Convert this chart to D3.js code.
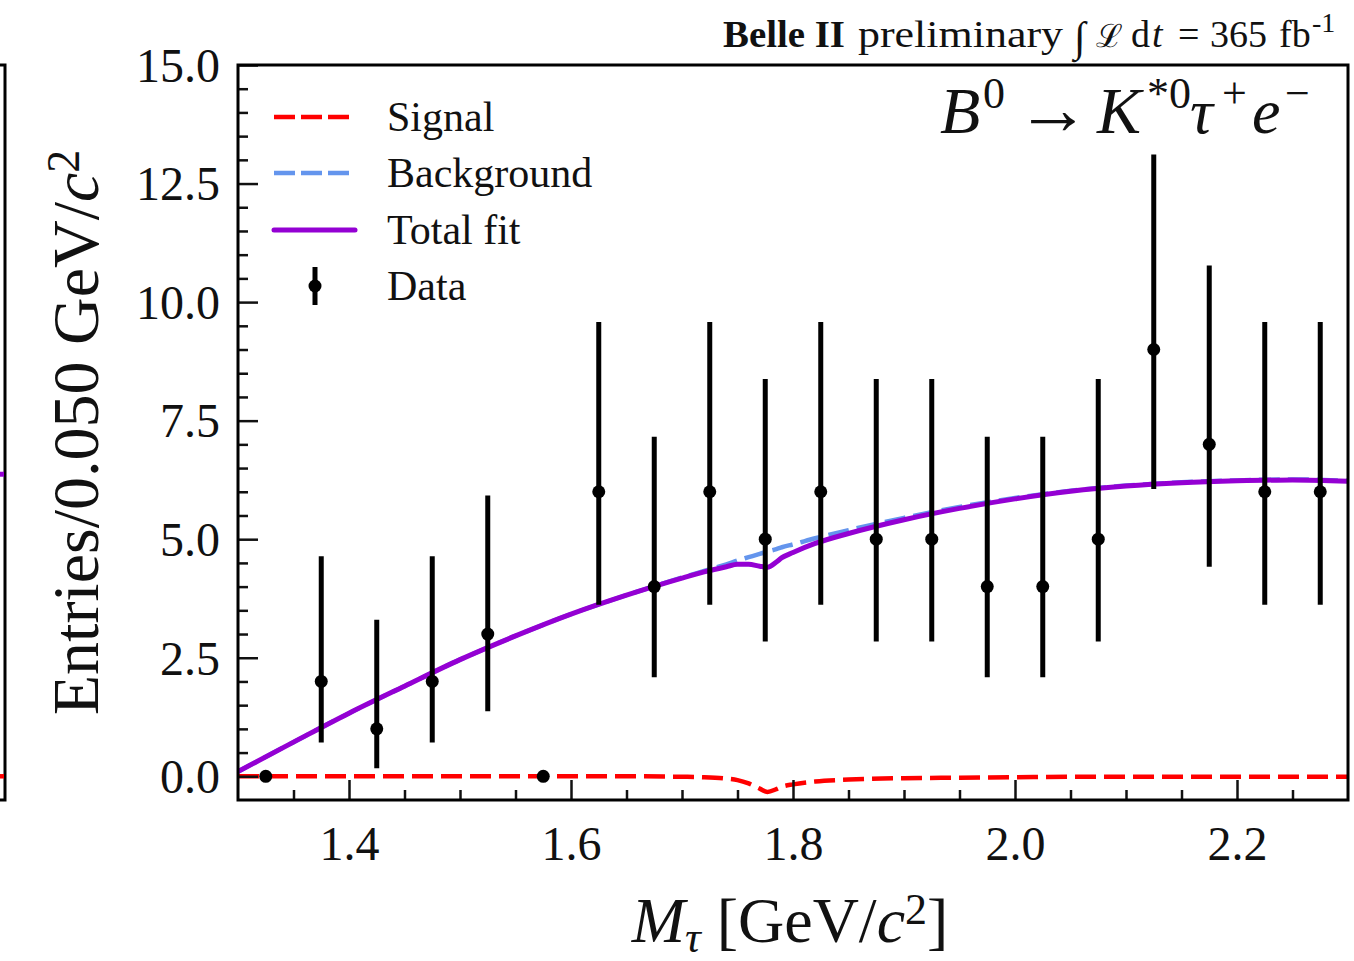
<!DOCTYPE html>
<html>
<head>
<meta charset="utf-8">
<script src="https://cdn.jsdelivr.net/npm/d3@7"></script>
<style>
  body { margin: 0; background: #fff; }
  text { font-family: "Liberation Serif", "Times New Roman", serif; fill: #111; }
</style>
</head>
<body>
<svg id="chart" width="1354" height="961"></svg>
<script>
if(!d3){
    throw new Error("d3 failed to load");
}

// data points (bin centres, counts, 68% Poisson interval)
const binCentres = [1.325, 1.375, 1.425, 1.475, 1.525, 1.575, 1.625, 1.675, 1.725, 1.775,
                    1.825, 1.875, 1.925, 1.975, 2.025, 2.075, 2.125, 2.175, 2.225, 2.275];
const counts   = [0, 2, 1, 2, 3, 0, 6, 4, 6, 5, 6, 5, 5, 4, 4, 5, 9, 7, 6, 6];
const errLow   = [0, 0.71, 0.17, 0.71, 1.37, 0, 3.62, 2.09, 3.62, 2.84,
                  3.62, 2.84, 2.84, 2.09, 2.09, 2.84, 6.06, 4.42, 3.62, 3.62];
const errHigh  = [0, 4.64, 3.30, 4.64, 5.92, 0, 9.58, 7.16, 9.58, 8.38,
                  9.58, 8.38, 8.38, 7.16, 7.16, 8.38, 13.11, 10.77, 9.58, 9.58];

// fit components
const fitGrid    = [1.30, 1.35, 1.40, 1.45, 1.50, 1.55, 1.60, 1.65, 1.70, 1.72, 1.74, 1.75, 1.76, 1.77,
                    1.777, 1.785, 1.79, 1.80, 1.82, 1.85, 1.90, 1.95, 2.00, 2.05, 2.10, 2.15, 2.20, 2.25, 2.30];
const background = [0.10, 0.72, 1.33, 1.90, 2.46, 2.96, 3.42, 3.82, 4.19, 4.33, 4.47, 4.55, 4.62, 4.69,
                    4.74, 4.79, 4.83, 4.89, 5.02, 5.19, 5.45, 5.68, 5.87, 6.02, 6.13, 6.20, 6.24, 6.26, 6.23];
const signal     = [0, 0, 0, 0, 0, 0, 0, 0, -0.01, -0.02, -0.05, -0.08, -0.15, -0.26,
                    -0.33, -0.27, -0.22, -0.17, -0.11, -0.07, -0.04, -0.03, -0.02, -0.01, -0.01, -0.01, -0.01, -0.01, -0.01];

// edge of the neighbouring panel that shows at the left border
const neighbourTotal  = 6.37;
const neighbourSignal = 0;

const xTicks = [1.4, 1.6, 1.8, 2.0, 2.2];
const yTicks = [0, 2.5, 5, 7.5, 10, 12.5, 15];

const legendItems = ["Signal", "Background", "Total fit", "Data"];

const colours = {
    signal: "#ff0000",
    background: "#6495ed",
    total: "#9400d3",
    data: "#000000"
};

const svg = d3.select("#chart");
const W = 1354, H = 961;
const m = {left: 238, right: 1348, top: 65, bottom: 800};

svg.append("rect").attr("width", W).attr("height", H).attr("fill", "#fff");

const x = d3.scaleLinear().domain([1.3, 2.3]).range([m.left, m.right]);
const y = d3.scaleLinear().domain([-0.5, 15]).range([m.bottom, m.top]);

// neighbour panel stub
const nb = svg.append("g");
nb.append("path")
    .attr("d", `M0,${m.top} H5 V${m.bottom} H0`)
    .attr("fill", "none").attr("stroke", "#000").attr("stroke-width", 3);
nb.append("line").attr("x1", 0).attr("x2", 4)
    .attr("y1", y(neighbourTotal)).attr("y2", y(neighbourTotal))
    .attr("stroke", colours.total).attr("stroke-width", 5);
nb.append("line").attr("x1", 0).attr("x2", 4)
    .attr("y1", y(neighbourSignal)).attr("y2", y(neighbourSignal))
    .attr("stroke", colours.signal).attr("stroke-width", 4.5);

const plot = svg.append("g");
plot.append("clipPath").attr("id", "clip")
    .append("rect").attr("x", m.left).attr("y", m.top)
    .attr("width", m.right - m.left).attr("height", m.bottom - m.top);

const inner = plot.append("g").attr("clip-path", "url(#clip)");

const total = background.map((b, i) => b + signal[i]);

const line = (vals) => d3.line()
    .x((d, i) => x(fitGrid[i]))
    .y(d => y(d))
    .curve(d3.curveMonotoneX)(vals);

inner.append("path").attr("d", line(signal))
    .attr("fill", "none").attr("stroke", colours.signal)
    .attr("stroke-width", 4.5).attr("stroke-dasharray", "21,8");
inner.append("path").attr("d", line(background))
    .attr("fill", "none").attr("stroke", colours.background)
    .attr("stroke-width", 4.5).attr("stroke-dasharray", "21,8");
inner.append("path").attr("d", line(total))
    .attr("fill", "none").attr("stroke", colours.total)
    .attr("stroke-width", 5);

// data
const pts = binCentres.map((c, i) => ({c, n: counts[i], lo: errLow[i], hi: errHigh[i]}));
inner.selectAll("line.err").data(pts.filter(d => d.hi > d.lo)).join("line")
    .attr("class", "err")
    .attr("x1", d => x(d.c)).attr("x2", d => x(d.c))
    .attr("y1", d => y(d.lo)).attr("y2", d => y(d.hi))
    .attr("stroke", colours.data).attr("stroke-width", 5);
inner.selectAll("circle.pt").data(pts).join("circle")
    .attr("class", "pt")
    .attr("cx", d => x(d.c)).attr("cy", d => y(d.n)).attr("r", 6.5)
    .attr("fill", colours.data);

// axes, ticks inward
const tickStyle = (g) => {
    g.select(".domain").remove();
    g.selectAll(".tick line").attr("stroke", "#111").attr("stroke-width", 2.5);
};

const xAxis = d3.axisBottom(x).tickValues(xTicks).tickSize(-20).tickPadding(0)
    .tickFormat(d3.format(".1f"));
plot.append("g").attr("transform", `translate(0,${m.bottom})`).call(xAxis).call(tickStyle)
    .selectAll("text").attr("y", 60).attr("dy", null)
    .style("font-size", "48px").attr("fill", "#111");
plot.append("g").attr("transform", `translate(0,${m.bottom})`)
    .call(d3.axisBottom(x).tickValues(d3.range(1.35, 2.3, 0.05).filter(v => !xTicks.some(t => Math.abs(t - v) < 1e-6)))
        .tickSize(-10).tickFormat(""))
    .call(tickStyle);

const yAxis = d3.axisLeft(y).tickValues(yTicks).tickSize(-20).tickPadding(18)
    .tickFormat(d3.format(".1f"));
plot.append("g").attr("transform", `translate(${m.left},0)`).call(yAxis).call(tickStyle)
    .selectAll("text").attr("dy", "0.34em")
    .style("font-size", "48px").attr("fill", "#111");
plot.append("g").attr("transform", `translate(${m.left},0)`)
    .call(d3.axisLeft(y).tickValues(d3.range(0.5, 15, 0.5).filter(v => v % 2.5 !== 0))
        .tickSize(-10).tickFormat(""))
    .call(tickStyle);

// frame
plot.append("rect")
    .attr("x", m.left).attr("y", m.top)
    .attr("width", m.right - m.left).attr("height", m.bottom - m.top)
    .attr("fill", "none").attr("stroke", "#000").attr("stroke-width", 3);

// legend
const lg = svg.append("g");
const lgY = [117, 173, 230, 286];
const lgSym = [
    {stroke: colours.signal, dash: "21,6", w: 4.5},
    {stroke: colours.background, dash: "21,6", w: 4.5},
    {stroke: colours.total, dash: null, w: 5}
];
lgSym.forEach((s, i) => {
    lg.append("line").attr("x1", 274).attr("x2", 355)
        .attr("y1", lgY[i]).attr("y2", lgY[i])
        .attr("stroke", s.stroke).attr("stroke-width", s.w)
        .attr("stroke-dasharray", s.dash).attr("stroke-linecap", s.dash ? "butt" : "round");
});
lg.append("line").attr("x1", 315).attr("x2", 315).attr("y1", 267).attr("y2", 305)
    .attr("stroke", "#000").attr("stroke-width", 5);
lg.append("circle").attr("cx", 315).attr("cy", 286).attr("r", 6.5).attr("fill", "#000");
legendItems.forEach((t, i) => {
    lg.append("text").attr("x", 387).attr("y", lgY[i] + 14)
        .style("font-size", "42px").text(t);
});

// axis titles
const yl = svg.append("text")
    .attr("transform", `translate(98,${(m.top + m.bottom) / 2}) rotate(-90)`)
    .attr("text-anchor", "middle").style("font-size", "66px");
yl.append("tspan").text("Entries/0.050 GeV/");
yl.append("tspan").style("font-style", "italic").text("c");
yl.append("tspan").attr("dy", "-0.42em").style("font-size", "46px").text("2");

const xl = svg.append("text")
    .attr("x", (m.left + m.right) / 2 - 3).attr("y", 942)
    .attr("text-anchor", "middle").style("font-size", "64px");
xl.append("tspan").style("font-style", "italic").text("M");
xl.append("tspan").attr("dy", "0.22em").style("font-style", "italic").style("font-size", "44px").text("τ");
xl.append("tspan").attr("dy", "-0.15em").text("  [GeV/");
xl.append("tspan").style("font-style", "italic").text("c");
xl.append("tspan").attr("dy", "-0.42em").style("font-size", "44px").text("2");
xl.append("tspan").attr("dy", "0.29em").text("]");

// header, pieces placed one by one
const hdY = 47;
const hd = svg.append("g").style("font-size", "38px");
const hdParts = [
    {t: "Belle II", x: 723, w: 122, bold: true},
    {t: "preliminary", x: 858, w: 205},
    {t: "∫", x: 1074, dy: 4, size: 42},
    {t: "ℒ", x: 1096, size: 32, font: "DejaVu Serif"},
    {t: "d", x: 1131},
    {t: "t", x: 1152, it: true},
    {t: "=", x: 1178},
    {t: "365", x: 1210, w: 57},
    {t: "fb", x: 1279},
    {t: "-1", x: 1312, dy: -15, size: 28}
];
hdParts.forEach(p => {
    const t = hd.append("text").attr("x", p.x).attr("y", hdY + (p.dy || 0))
        .style("font-weight", p.bold ? "bold" : null)
        .style("font-style", p.it ? "italic" : null)
        .style("font-size", p.size ? p.size + "px" : null)
        .style("font-family", p.font || null)
        .text(p.t);
    if(p.w) t.attr("textLength", p.w).attr("lengthAdjust", "spacingAndGlyphs");
});

// decay label, pieces placed one by one
const dlY = 133;
const dl = svg.append("g").style("font-size", "64px");
const dlParts = [
    {t: "B", x: 940, it: true, size: 66},
    {t: "0", x: 983, sup: true},
    {t: "→", x: 1016, size: 74, dy: 1},
    {t: "K", x: 1097, it: true, size: 66},
    {t: "*0", x: 1147, sup: true},
    {t: "τ", x: 1190, it: true},
    {t: "+", x: 1222, sup: true},
    {t: "e", x: 1252, it: true},
    {t: "−", x: 1285, sup: true}
];
dlParts.forEach(p => {
    dl.append("text").attr("x", p.x).attr("y", (p.sup ? dlY - 25 : dlY) + (p.dy || 0))
        .style("font-style", p.it ? "italic" : "normal")
        .style("font-size", p.sup ? "44px" : (p.size || 64) + "px")
        .text(p.t);
});
</script>
</body>
</html>
